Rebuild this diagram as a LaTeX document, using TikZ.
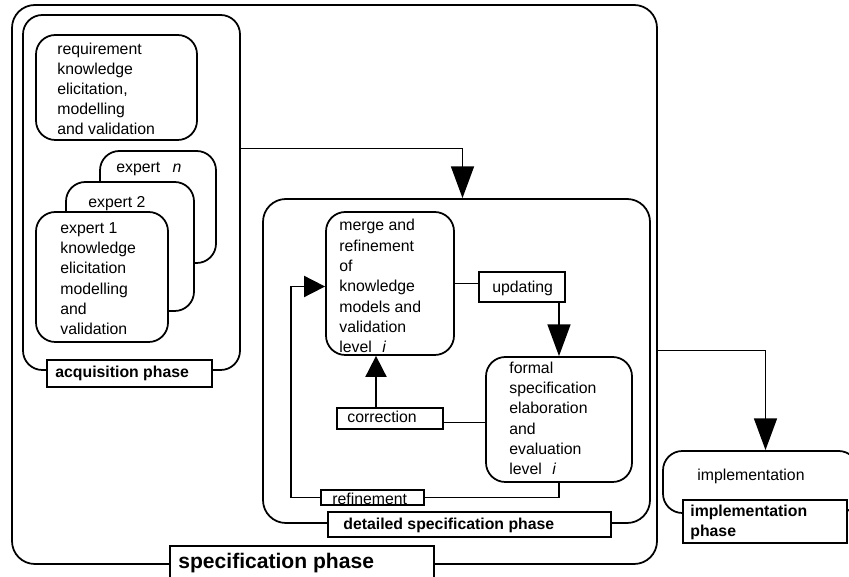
\documentclass[tikz,border=0pt]{standalone}
\usepackage{fontspec}
\setmainfont{Liberation Sans}
\usetikzlibrary{calc,fit,arrows.meta}
\tikzset{
  phase/.style={draw, line width=1pt, rounded corners=13pt, inner sep=0pt},
  task/.style={draw, fill=white, line width=1pt, rounded corners=11pt, inner sep=0pt},
  tagbox/.style={draw, fill=white, line width=1pt, inner sep=0pt},
  txt/.style={anchor=base west, inner sep=0pt, align=left, font=\fontsize{9}{11.5}\selectfont},
  boldtxt/.style={txt, font=\fontsize{9}{11.4}\selectfont\bfseries},
  link/.style={draw, line width=1pt},
  big/.style={link, -{Triangle[length=18pt, width=13pt]}},
  small/.style={link, -{Triangle[length=12pt, width=12pt]}},
}

\begin{document}
\begin{tikzpicture}[x=0.02cm, y=-0.02cm]
  \useasboundingbox (0,0) rectangle (849,577);

  % specification phase and acquisition phase
  \node[phase, fit={(12,5) (657,564)}] (spec) {};
  \node[phase, rounded corners=11pt, fit={(23,15) (240,370)}] (acq) {};
  \node[task, fit={(36,35) (197,140)}] (req) {};
  \node[task, fit={(100,151) (216,263)}] (expn) {};
  \node[task, fit={(66,182) (194,311)}] (exp2) {};
  \node[task, fit={(36,212) (168,342)}] (exp1) {};
  \node[tagbox, fit={(47,360) (212,387)}] (acqtag) {};

  % detailed specification phase
  \node[phase, fit={(263,199) (650,523)}] (det) {};
  \node[task, fit={(326,212) (454,355)}] (merge) {};
  \node[task, fit={(486,357) (632,482)}] (formal) {};

  % implementation
  \node[task, fit={(663,451) (858,513)}] (impl) {};

  % connectors
  \draw[big] ($(acq.east)+(0,-44)$) -| ($(det.north)+(6,0)$);
  \draw[big] ($(spec.east)+(0,66)$) -| ($(impl.north)+(5,0)$);
  \node[tagbox, fit={(479,272) (565,302)}] (upd) {};
  \draw[link] (merge.east) -- (merge.east -| upd.west);
  \draw[big] (upd.south -| formal.north) -- (formal.north);
  \node[tagbox, fit={(337,408) (443,429)}] (corr) {};
  \coordinate (cx) at ($(corr.east)+(0,4)$);
  \draw[link] (cx) -- (cx -| formal.west);
  \draw[small] ($(corr.north)+(-14,0)$) -- ($(merge.south)+(-14,0)$);
  \node[tagbox, fit={(321,490) (424,505)}] (ref) {};
  \draw[link] (formal.south) |- (ref.east);
  \draw[small] (ref.west) -| ($(merge.west)+(-34,3)$) -- ($(merge.west)+(0,3)$);

  % phase tags
  \node[tagbox, fit={(328,512) (611,537)}] (dettag) {};
  \node[tagbox, fit={(170,546) (434,600)}] (spectag) {};
  \node[tagbox, fit={(683,500) (847,543)}] (impltag) {};

  % texts (base = last line)
  \node[txt] (reqtxt) at (57,135) {requirement\\knowledge\\elicitation,\\modelling\\and validation};
  \node[txt] (expntxt) at (116,173) {expert\hspace{7pt}\textit{n}};
  \node[txt] (exp2txt) at (88,208) {expert 2};
  \node[txt, font=\fontsize{9}{11.6}\selectfont] (exp1txt) at (60,335) {expert 1\\knowledge\\elicitation\\modelling\\and\\validation};
  \node[boldtxt] (acqtxt) at (55,378) {acquisition phase};
  \node[txt, font=\fontsize{9}{11.6}\selectfont] (mergetxt) at (339,353) {merge and\\refinement\\of\\knowledge\\models and\\validation\\level\hspace{6pt}\textit{i}};
  \node[txt] (updtxt) at (492,293) {updating};
  \node[txt, font=\fontsize{9}{11.6}\selectfont] (formaltxt) at (509,475) {formal\\specification\\elaboration\\and\\evaluation\\level\hspace{6pt}\textit{i}};
  \node[txt] (corrtxt) at (347,423) {correction};
  \node[txt] (reftxt) at (332,505) {refinement};
  \node[boldtxt] (dettxt) at (343,530) {detailed specification phase};
  \node[boldtxt, font=\fontsize{12}{14}\selectfont\bfseries] (spectxt) at (178,568) {specification phase};
  \node[txt] (impltxt) at (697,480) {implementation};
  \node[boldtxt] (impltagtxt) at (690,537) {implementation\\phase};
\end{tikzpicture}
\end{document}
